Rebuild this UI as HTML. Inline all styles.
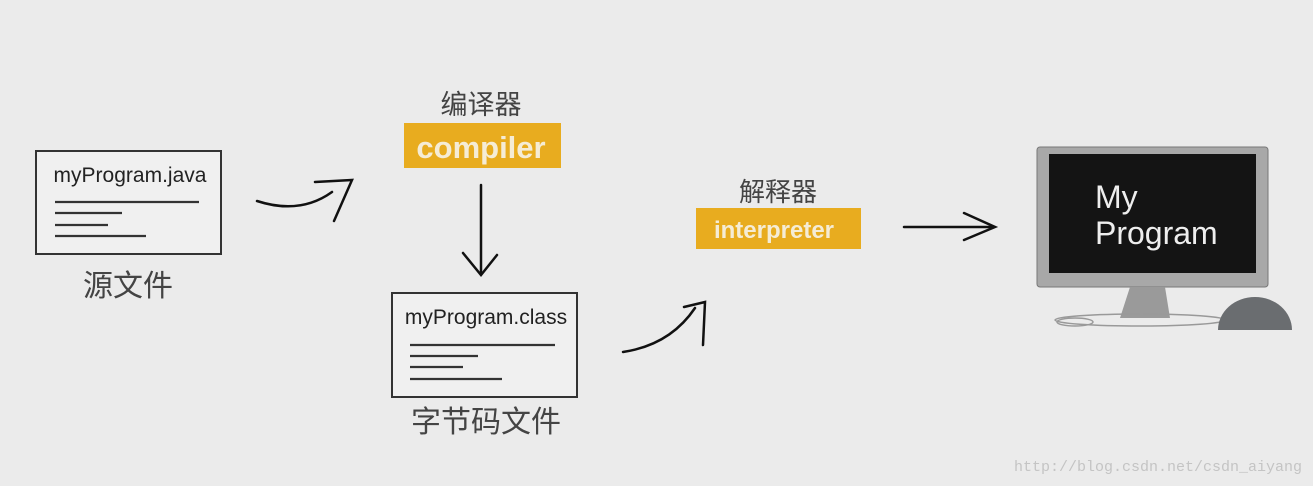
<!DOCTYPE html>
<html><head><meta charset="utf-8"><style>
body{margin:0;width:1313px;height:486px;background:#ebebeb;overflow:hidden;font-family:"Liberation Sans","Noto Sans CJK SC",sans-serif;}
svg{position:absolute;left:0;top:0}
</style></head><body>
<svg width="1313" height="486" viewBox="0 0 1313 486" xmlns="http://www.w3.org/2000/svg">
<g font-family="Liberation Sans, Noto Sans CJK SC, sans-serif">
<rect x="36" y="151" width="185" height="103" fill="#f0f0f0" stroke="#333" stroke-width="2"/>
<text x="130" y="182" font-size="21" text-anchor="middle" fill="#222">myProgram.java</text>
<g stroke="#333" stroke-width="2.2">
<line x1="55" y1="202" x2="199" y2="202"/><line x1="55" y1="213" x2="122" y2="213"/>
<line x1="55" y1="225" x2="108" y2="225"/><line x1="55" y1="236" x2="146" y2="236"/>
</g>
<text x="128" y="296" font-size="30" text-anchor="middle" fill="#444">源文件</text>
<text x="481" y="114" font-size="27" text-anchor="middle" fill="#444">编译器</text>
<rect x="404" y="123" width="157" height="45" fill="#e8ac1f"/>
<text x="481" y="158" font-size="31" font-weight="bold" text-anchor="middle" fill="#f5ecd5">compiler</text>
<rect x="392" y="293" width="185" height="104" fill="#f0f0f0" stroke="#333" stroke-width="2"/>
<text x="486" y="324" font-size="21" text-anchor="middle" fill="#222">myProgram.class</text>
<g stroke="#333" stroke-width="2.2">
<line x1="410" y1="345" x2="555" y2="345"/><line x1="410" y1="356" x2="478" y2="356"/>
<line x1="410" y1="367" x2="463" y2="367"/><line x1="410" y1="379" x2="502" y2="379"/>
</g>
<text x="486" y="432" font-size="30" text-anchor="middle" fill="#444">字节码文件</text>
<text x="778" y="201" font-size="26" text-anchor="middle" fill="#444">解释器</text>
<rect x="696" y="208" width="165" height="41" fill="#e8ac1f"/>
<text x="774" y="238" font-size="24" font-weight="bold" text-anchor="middle" fill="#f5ecd5">interpreter</text>
<g fill="none" stroke="#111" stroke-width="2.5" stroke-linecap="round">
<path d="M257 201 Q300 215 332 192"/>
<path d="M315 182 L352 180 L334 221"/>
<line x1="481" y1="185" x2="481" y2="273"/>
<path d="M463 253 L481 275 L497 255"/>
<path d="M623 352 Q670 345 695 308"/>
<path d="M684 307 L705 302 L703 345"/>
<line x1="904" y1="227" x2="992" y2="227"/>
<path d="M964 213 L995 227 L964 240"/>
</g>
<rect x="1037" y="147" width="231" height="140" rx="3" fill="#a8a8a8" stroke="#777"/>
<rect x="1049" y="154" width="207" height="119" fill="#141414"/>
<text x="1095" y="208" font-size="32" fill="#eee">My</text>
<text x="1095" y="244" font-size="32" fill="#eee">Program</text>
<path d="M1130 287 L1165 287 L1170 318 L1120 318 Z" fill="#9a9a9a"/>
<ellipse cx="1140" cy="320" rx="85" ry="6" fill="none" stroke="#999" stroke-width="1.5"/>
<ellipse cx="1075" cy="322" rx="18" ry="4" fill="none" stroke="#999" stroke-width="1.5"/>
<path d="M1218 330 A37 33 0 0 1 1292 330 Z" fill="#6a6d70"/>
</g>
<text x="1302" y="471" font-family="Liberation Mono, monospace" font-size="15" text-anchor="end" fill="#c4c4c4">http://blog.csdn.net/csdn_aiyang</text>
</svg>
</body></html>
